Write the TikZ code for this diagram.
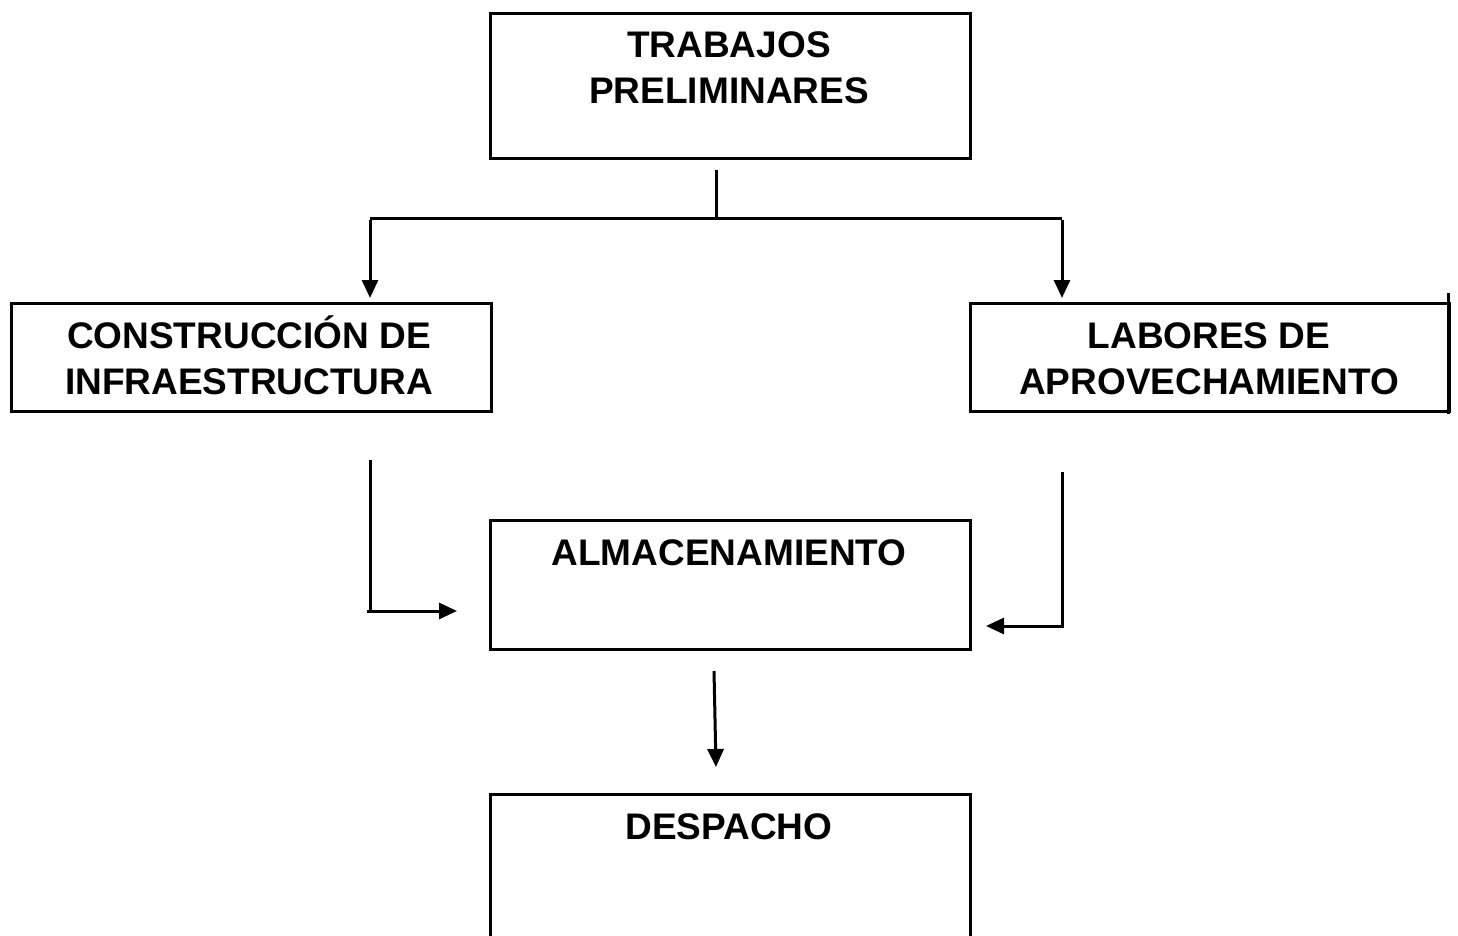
\documentclass[tikz,border=0pt]{standalone}
\usepackage{fontspec}
\setmainfont{Liberation Sans}
\usetikzlibrary{arrows.meta}
\begin{document}
\begin{tikzpicture}[x=1pt,y=-1pt,
  box/.style={draw,line width=3pt,inner sep=0pt,anchor=north west},
  lbl/.style={font=\fontsize{37}{46}\selectfont\bfseries,align=center,inner sep=0pt,anchor=base},
  conn/.style={line width=3pt},
  arr/.style={line width=3pt,-{Triangle[length=18pt,width=16pt]}}]
\clip (0,0) rectangle (1458,936);
% boxes
\node[box,minimum width=480pt,minimum height=145pt] (tb) at (489,12) {};
\node[box,minimum width=480pt,minimum height=108pt] (lb) at (10,302) {};
\node[box,minimum width=479pt,minimum height=108pt] (rb) at (969,302) {};
\node[box,minimum width=480pt,minimum height=129pt] (mb) at (489,519) {};
\node[box,minimum width=480pt,minimum height=170pt] (db) at (489,793) {};
\draw[conn] (1448,293) -- (1448,414);
% labels
\node[lbl] (tt) at (729,104) {TRABAJOS\\PRELIMINARES};
\node[lbl] (lt) at (249,394) {CONSTRUCCIÓN DE\\INFRAESTRUCTURA};
\node[lbl] (rt) at (1209,394) {LABORES DE\\APROVECHAMIENTO};
\node[lbl] (mt) at (729,565) {ALMACENAMIENTO};
\node[lbl] (dt) at (729,839) {DESPACHO};
% connectors
\coordinate (t0) at (716,170);
\coordinate (t1) at (716,218);
\coordinate (tl) at (370,218);
\coordinate (tr) at (1062,218);
\coordinate (la) at (370,298);
\coordinate (ra) at (1062,298);
\draw[conn] (t0) -- (t1);
\draw[conn] (tl) -- (tr);
\draw[arr] ([yshift=-1.5pt]tl) -- (la);
\draw[arr] ([yshift=-1.5pt]tr) -- (ra);
\coordinate (l0) at (370,460);
\coordinate (l1) at (370,611);
\coordinate (l2) at (457,611);
\draw[conn] (l0) -- (l1);
\draw[arr] (367,611) -- (l2);
\coordinate (r0) at (1062,472);
\coordinate (r1) at (1062,626);
\coordinate (r2) at (986,626);
\draw[arr] (r0) -- (r1) -- (r2);
\coordinate (d0) at (714,671);
\coordinate (d1) at (716,767);
\draw[arr] (d0) -- (d1);
\end{tikzpicture}
\end{document}
